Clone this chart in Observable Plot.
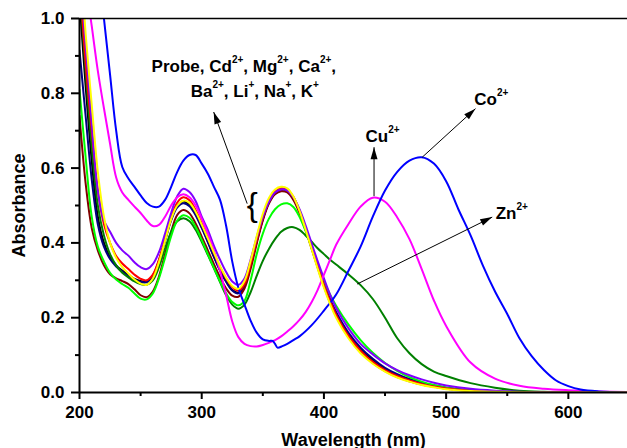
<!DOCTYPE html>
<html>
<head>
<meta charset="utf-8">
<style>
  html, body { margin: 0; padding: 0; background: #fff; }
  svg { display: block; }
</style>
<script src="https://cdn.jsdelivr.net/npm/d3@7"></script>
<script src="https://cdn.jsdelivr.net/npm/@observablehq/plot@0.6"></script>
</head>
<body>
<div id="chart"></div>
<script>
// ---- data ----
const wavelengths = [200,205,210,215,220,225,230,235,240,245,250,255,260,265,270,275,280,285,290,295,300,305,310,315,320,325,330,335,340,345,350,355,360,365,370,375,380,385,390,395,400,405,410,420,430,440,450,460,470,480,490,500,520,540,560,580,600,625,650];

const probeAbs = [1.05,0.82,0.62,0.47,0.40,0.362,0.34,0.326,0.314,
  0.304,0.298,0.297,0.313,0.353,0.408,0.463,0.5,0.511,
  0.503,0.478,0.443,0.404,0.364,0.327,0.297,0.274,0.267,
  0.286,0.34,0.405,0.465,0.509,0.534,0.543,0.54,0.52,
  0.484,0.437,0.387,0.336,0.287,0.245,0.21,
  0.155,0.115,0.086,0.063,0.046,0.034,0.024,0.017,0.012,
  0.005,0.002,0.001,0,0, 0,0];

const cdAbs = [0.915,0.74,0.57,0.45,0.39,0.357,0.337,0.323,0.311,
  0.302,0.296,0.295,0.31,0.35,0.405,0.46,0.495,0.506,
  0.498,0.474,0.44,0.402,0.362,0.326,0.296,0.273,0.265,
  0.284,0.338,0.403,0.463,0.508,0.533,0.542,0.54,0.52,
  0.485,0.44,0.39,0.34,0.292,0.25,0.215,
  0.16,0.12,0.09,0.066,0.049,0.036,0.026,0.019,0.013,
  0.006,0.003,0.001,0,0, 0,0];

const mgAbs = [0.74,0.56,0.44,0.38,0.34,0.316,0.305,0.298,0.29,
  0.276,0.26,0.255,0.27,0.31,0.37,0.43,0.475,0.488,
  0.479,0.452,0.417,0.38,0.343,0.308,0.278,0.259,0.256,
  0.278,0.33,0.398,0.46,0.505,0.53,0.538,0.535,0.515,
  0.48,0.434,0.384,0.333,0.284,0.24,0.204,
  0.149,0.109,0.079,0.057,0.041,0.03,0.021,0.015,0.01,
  0.004,0.002,0.001,0,0, 0,0];

const caAbs = [0.81,0.63,0.47,0.39,0.35,0.32,0.302,0.29,0.28,
  0.265,0.251,0.249,0.265,0.305,0.36,0.418,0.46,0.474,
  0.467,0.443,0.408,0.37,0.333,0.297,0.265,0.242,0.233,
  0.245,0.3,0.37,0.425,0.465,0.49,0.503,0.506,0.496,
  0.47,0.432,0.388,0.342,0.298,0.262,0.232,
  0.182,0.14,0.106,0.079,0.058,0.041,0.029,0.02,0.013,
  0.005,0.002,0.001,0,0, 0,0];

const baAbs = [1.12,0.88,0.70,0.54,0.45,0.40,0.365,0.345,0.33,
  0.315,0.304,0.300,0.315,0.355,0.41,0.468,0.508,0.522,
  0.514,0.488,0.452,0.414,0.373,0.336,0.305,0.282,0.272,
  0.29,0.343,0.408,0.468,0.512,0.537,0.546,0.543,0.523,
  0.487,0.44,0.39,0.338,0.288,0.245,0.208,
  0.152,0.112,0.082,0.06,0.044,0.032,0.023,0.016,0.011,
  0.005,0.002,0.001,0,0, 0,0];

const liAbs = [1.15,0.93,0.72,0.54,0.46,0.43,0.40,0.38,0.366,
  0.348,0.335,0.330,0.343,0.375,0.425,0.48,0.525,0.545,
  0.536,0.512,0.47,0.435,0.392,0.355,0.322,0.297,0.288,
  0.305,0.355,0.415,0.47,0.51,0.535,0.543,0.54,0.522,
  0.49,0.447,0.398,0.35,0.305,0.262,0.226,
  0.172,0.13,0.102,0.078,0.06,0.046,0.035,0.026,0.019,
  0.01,0.005,0.002,0.001,0, 0,0];

const naAbs = [1.2,0.96,0.77,0.59,0.47,0.40,0.36,0.335,0.318,
  0.302,0.291,0.288,0.305,0.348,0.405,0.463,0.5,0.513,
  0.507,0.483,0.449,0.412,0.374,0.338,0.307,0.285,0.277,
  0.298,0.352,0.418,0.478,0.52,0.543,0.55,0.546,0.524,
  0.486,0.436,0.383,0.33,0.28,0.237,0.2,
  0.145,0.105,0.077,0.056,0.04,0.029,0.02,0.014,0.009,
  0.004,0.002,0.001,0,0, 0,0];

const znAbs = [1.1,0.86,0.66,0.5,0.42,0.37,0.34,0.32,0.308,
  0.297,0.29,0.288,0.3,0.335,0.385,0.43,0.458,0.466,
  0.458,0.435,0.403,0.368,0.332,0.295,0.26,0.235,0.224,
  0.235,0.268,0.312,0.352,0.384,0.41,0.43,0.44,0.442,
  0.435,0.42,0.403,0.385,0.37,0.355,0.342,
  0.316,0.287,0.25,0.2,0.145,0.105,0.076,0.056,0.044,
  0.025,0.013,0.005,0.002,0.001, 0,0];

const cuAbs = [1.3,1.1,0.98,0.86,0.76,0.665,0.575,0.535,0.515,
  0.497,0.48,0.46,0.445,0.448,0.47,0.5,0.522,0.53,
  0.522,0.5,0.465,0.425,0.38,0.325,0.26,0.19,0.148,
  0.13,0.124,0.123,0.127,0.133,0.14,0.15,0.163,0.177,
  0.194,0.215,0.242,0.275,0.315,0.355,0.395,
  0.45,0.497,0.521,0.51,0.468,0.41,0.33,0.246,0.178,
  0.08,0.037,0.018,0.01,0.006, 0.003,0.001];

const coWavelengths = [200,210,215,220,225,230,235,240,245,250,255,260,265,270,275,280,285,290,295,300,305,310,315,320,325,330,335,340,345,350,355,358,360,362,366,370,375,380,390,400,410,420,430,440,450,460,470,480,490,500,510,520,530,540,550,560,570,580,590,600,610,625,650];
const coAbs = [1.6,1.35,1.15,1.0,0.85,0.7,0.603,0.572,0.55,0.527,
  0.507,0.497,0.497,0.515,0.55,0.59,0.62,0.635,0.635,0.612,
  0.585,0.55,0.515,0.445,0.35,0.28,0.235,0.192,0.16,0.142,
  0.138,0.138,0.13,0.12,0.124,0.13,0.14,0.15,0.18,0.219,
  0.262,0.325,0.39,0.47,0.54,0.59,0.62,0.629,0.612,0.565,
  0.49,0.42,0.34,0.27,0.21,0.145,0.097,0.06,0.032,0.017,
  0.008,0.003,0];

// ticks
const xMajorTicks = [200, 300, 400, 500, 600];
const xMinorTicks = [250, 350, 450, 550];
const yMajorTicks = [0, 0.2, 0.4, 0.6, 0.8, 1.0];
const yMinorTicks = [0.1, 0.3, 0.5, 0.7, 0.9];

// annotations (data coordinates)
const annotLabels = ["Probe, Cd^(2+), Mg^(2+), Ca^(2+),", "Ba^(2+), Li^(+), Na^(+), K^(+)", "Cu^(2+)", "Co^(2+)", "Zn^(2+)"];
const annotWl = [259, 291, 434, 523, 540.5];
const annotAbs = [0.856, 0.789, 0.669, 0.768, 0.464];
const braceWl = [341.3];
const braceAbs = [0.5];
const arrowFromWl = [337.2, 441, 480.4, 427.2];
const arrowFromAbs = [0.505, 0.525, 0.629, 0.29];
const arrowToWl = [309.8, 441, 524, 537.7];
const arrowToAbs = [0.75, 0.656, 0.759, 0.469];

// ---- build ----
const series = [
  {name: "Probe", color: "#000000", wl: wavelengths, a: probeAbs},
  {name: "Cd2+", color: "#000080", wl: wavelengths, a: cdAbs},
  {name: "Mg2+", color: "#800000", wl: wavelengths, a: mgAbs},
  {name: "Zn2+", color: "#008000", wl: wavelengths, a: znAbs},
  {name: "Ca2+", color: "#00FF00", wl: wavelengths, a: caAbs},
  {name: "Ba2+", color: "#FF0000", wl: wavelengths, a: baAbs},
  {name: "Li+",  color: "#8000FF", wl: wavelengths, a: liAbs},
  {name: "Cu2+", color: "#FF00FF", wl: wavelengths, a: cuAbs},
  {name: "Co2+", color: "#0000FF", wl: coWavelengths, a: coAbs},
  {name: "Na+",  color: "#FFFF00", wl: wavelengths, a: naAbs}
];

const font = "'Liberation Sans', Arial, Helvetica, sans-serif";
const annots = annotLabels.map((t, i) => ({t, x: annotWl[i], y: annotAbs[i]}));
const arrows = arrowFromWl.map((x1, i) => ({x1, y1: arrowFromAbs[i], x2: arrowToWl[i], y2: arrowToAbs[i]}));
const braces = braceWl.map((x, i) => ({x, y: braceAbs[i]}));

const lineMarks = series.map(s =>
  Plot.line(s.wl.map((w, i) => ({w, a: s.a[i]})), {
    x: "w", y: "a", stroke: s.color, strokeWidth: 2, curve: "catmull-rom", clip: true
  })
);

const plot = Plot.plot({
  width: 627,
  height: 448,
  marginLeft: 79,
  marginRight: 0,
  marginTop: 18,
  marginBottom: 56,
  x: {domain: [200, 648.4]},
  y: {domain: [0, 1]},
  style: {fontFamily: font, background: "white", color: "black"},
  marks: [
    ...lineMarks,
    Plot.ruleX([200], {stroke: "black", strokeWidth: 2}),
    Plot.ruleY([0], {stroke: "black", strokeWidth: 2}),
    Plot.ruleY([1], {stroke: "black", strokeWidth: 1.6}),
    Plot.axisY({ticks: yMajorTicks, tickSize: 8, tickPadding: 7, tickFormat: d3.format(".1f"),
      fontSize: 17, fontWeight: "bold", strokeWidth: 2, label: null}),
    Plot.axisY({ticks: yMinorTicks, tickSize: 4, tickFormat: () => "", strokeWidth: 2, label: null}),
    Plot.axisX({ticks: xMajorTicks, tickSize: 7, tickPadding: 6, tickFormat: d => String(d),
      fontSize: 17, fontWeight: "bold", strokeWidth: 2, label: null}),
    Plot.axisX({ticks: xMinorTicks, tickSize: 4, tickFormat: () => "", strokeWidth: 2, label: null}),
    Plot.text(["Absorbance"], {frameAnchor: "left", rotate: -90, dx: -60, textAnchor: "middle",
      lineAnchor: "middle", fontSize: 18, fontWeight: "bold", fill: "black"}),
    Plot.text(["Wavelength (nm)"], {frameAnchor: "bottom", dy: 53, textAnchor: "middle",
      lineAnchor: "bottom", fontSize: 18, fontWeight: "bold", fill: "black"}),
    Plot.link(arrows, {x1: "x1", y1: "y1", x2: "x2", y2: "y2", stroke: "black", strokeWidth: 1,
      markerEnd: "arrow", ariaLabel: "annot-arrow"}),
    Plot.text(annots, {x: "x", y: "y", text: "t", textAnchor: "start", lineAnchor: "bottom",
      fontSize: 17, fontWeight: "bold", fill: "black"}),
    Plot.text(braces, {x: "x", y: "y", text: () => "{", textAnchor: "middle", lineAnchor: "middle",
      fontSize: 33, fill: "black"})
  ]
});

// superscripts
const NS = "http://www.w3.org/2000/svg";
plot.querySelectorAll("text").forEach(t => {
  const s = t.textContent;
  if (!s.includes("^(")) return;
  const parts = s.split(/\^\(([^)]*)\)/);
  while (t.firstChild) t.removeChild(t.firstChild);
  let raised = false;
  parts.forEach((p, i) => {
    if (!p) return;
    const ts = document.createElementNS(NS, "tspan");
    ts.textContent = p;
    if (i % 2 === 1) { ts.setAttribute("font-size", "10"); ts.setAttribute("dy", "-9"); raised = true; }
    else if (raised) { ts.setAttribute("dy", "9"); raised = false; }
    t.appendChild(ts);
  });
});

// filled arrowheads
plot.querySelectorAll("marker").forEach(m => {
  m.setAttribute("viewBox", "-13 -5 14 10");
  m.setAttribute("markerWidth", "14");
  m.setAttribute("markerHeight", "10");
  m.setAttribute("markerUnits", "userSpaceOnUse");
  m.setAttribute("refX", "0");
  m.setAttribute("refY", "0");
  m.setAttribute("fill", "black");
  m.setAttribute("stroke", "none");
  while (m.firstChild) m.removeChild(m.firstChild);
  const p = document.createElementNS(NS, "path");
  p.setAttribute("d", "M-12,-3.5L0,0L-12,3.5Z");
  m.appendChild(p);
});

document.getElementById("chart").appendChild(plot);
</script>
</body>
</html>
